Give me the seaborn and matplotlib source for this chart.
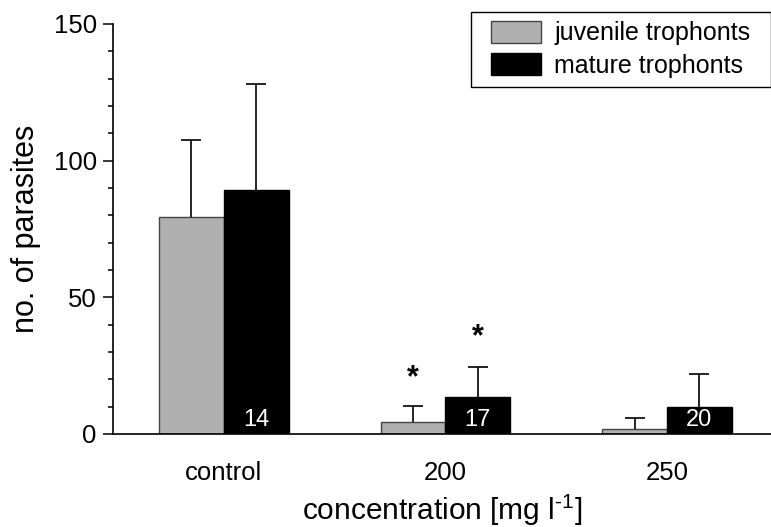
import pandas as pd
import matplotlib.pyplot as plt
import seaborn as sns

# Данные
groups = ['control', '200', '250']
stages = ['juvenile trophonts', 'mature trophonts']
juvenile = [79.5, 4.3, 1.7]
mature = [89.3, 13.4, 10.0]
juvenile_err = [28.1, 6.1, 4.3]
mature_err = [38.7, 11.2, 12.0]
n_labels = ['14', '17', '20']
stars_juvenile = [None, 20.5, None]
stars_mature = [None, 35.5, None]

df = pd.DataFrame({
    'group': groups * 2,
    'stage': [stages[0]] * 3 + [stages[1]] * 3,
    'value': juvenile + mature,
})

sns.set_style('ticks')
plt.rcParams['font.family'] = ['Liberation Sans', 'DejaVu Sans']
plt.rcParams['text.color'] = 'black'
plt.rcParams['xtick.color'] = 'black'
plt.rcParams['ytick.color'] = 'black'
plt.rcParams['axes.labelcolor'] = 'black'

fig = plt.figure(figsize=(7.71, 5.27), dpi=100)
ax = fig.add_axes([0.1466, 0.1765, 0.853, 0.778])

sns.barplot(data=df, x='group', y='value', hue='stage', order=groups,
            hue_order=stages, palette=['#b0b0b0', '#000000'],
            width=0.585, errorbar=None, ax=ax)

edge_colors = ['#444444', '#000000']
errs = [juvenile_err, mature_err]
stars = [stars_juvenile, stars_mature]
bar_containers = list(ax.containers)
for k, cont in enumerate(bar_containers):
    for i, bar in enumerate(cont):
        bar.set_edgecolor(edge_colors[k])
        bar.set_linewidth(1.0)
        cx = bar.get_x() + bar.get_width() / 2
        h = bar.get_height()
        top = h + errs[k][i]
        # только верхний ус с перекладиной
        ax.vlines(cx, h, top, color='black', linewidth=1.2, zorder=1)
        ax.plot([cx], [top], marker='_', markersize=14, markeredgewidth=1.2,
                color='black', zorder=1)
        if stars[k][i] is not None:
            ax.text(cx, stars[k][i], '*', ha='center', va='center',
                    fontsize=22, fontweight='bold')
        if k == 1:
            ax.text(cx, 2.8, n_labels[i], ha='center', va='baseline',
                    color='white', fontsize=17)

ax.set_ylim(0, 150)
ax.set_xlim(-0.5, 2.468)
ax.set_yticks([0, 50, 100, 150])
ax.set_yticks(range(0, 151, 10), minor=True)
ax.tick_params(axis='y', which='major', length=7.5, width=1.1, pad=4.3, labelsize=18.5)
ax.tick_params(axis='y', which='minor', length=3.6, width=1.1)
ax.tick_params(axis='x', length=0, labelsize=18.5, pad=19.5)
for s in ['left', 'bottom']:
    ax.spines[s].set_linewidth(1.2)
    ax.spines[s].set_color('black')
sns.despine(ax=ax)

ax.set_xlabel('concentration [mg l$^{\\mathregular{\u2010}\\mathregular{1}}$]', fontsize=21.5, labelpad=5)
ax.set_ylabel('no. of parasites', fontsize=22, labelpad=9)

leg = ax.legend(loc='upper right', bbox_to_anchor=(0.983, 1.029), fontsize=18,
                frameon=True, fancybox=False, edgecolor='black',
                handlelength=2.0, handleheight=0.95, borderaxespad=0.0,
                borderpad=0.36, handletextpad=0.55, labelspacing=0.32)
frame = leg.get_frame()
frame.set_linewidth(1.0)
frame.set_alpha(1)
# рамка шире по горизонтали, чем по вертикали
frame.set_boxstyle('square', pad=0.44)
frame.set_mutation_aspect(0.001)
for h, ec in zip(leg.legend_handles, edge_colors):
    h.set_edgecolor(ec)
    h.set_linewidth(1.0)

fig.savefig('out.png', dpi=100)
